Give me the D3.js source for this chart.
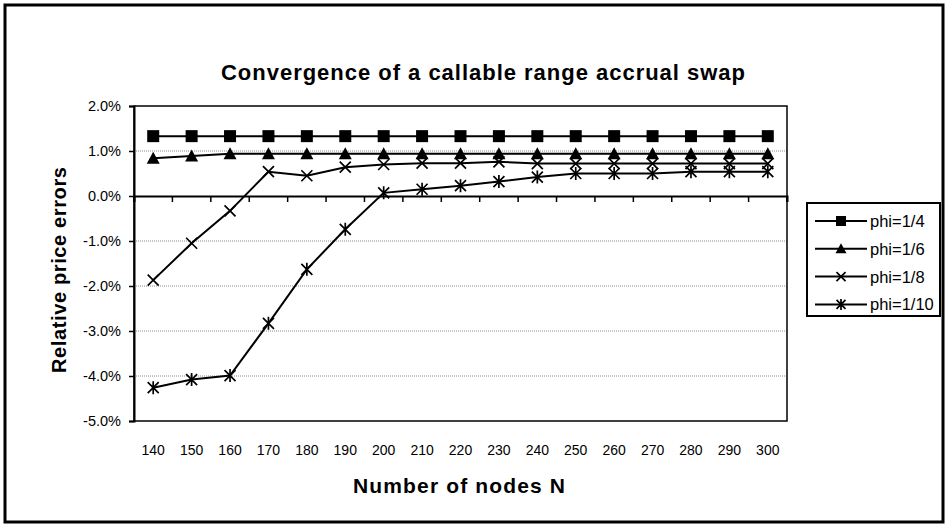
<!DOCTYPE html>
<html>
<head>
  <meta charset="utf-8">
  <script src="https://cdn.jsdelivr.net/npm/d3@7"></script>
  <title>Convergence of a callable range accrual swap</title>
  <style>
    body { margin: 0; background: #fff; }
    text { font-family: "Liberation Sans", Arial, sans-serif; fill: #000; }
  </style>
</head>
<body>
<svg width="948" height="527"></svg>
<script>
  // values (relative price error, in %)
  var nodes = [140, 150, 160, 170, 180, 190, 200, 210, 220, 230, 240, 250, 260, 270, 280, 290, 300];
  var phi4  = [1.33, 1.33, 1.33, 1.33, 1.33, 1.33, 1.33, 1.33, 1.33, 1.33, 1.33, 1.33, 1.33, 1.33, 1.33, 1.33, 1.33];
  var phi6  = [0.84, 0.89, 0.94, 0.94, 0.94, 0.94, 0.94, 0.94, 0.94, 0.94, 0.94, 0.94, 0.94, 0.94, 0.94, 0.94, 0.94];
  var phi8  = [-1.87, -1.05, -0.33, 0.54, 0.45, 0.64, 0.70, 0.73, 0.73, 0.76, 0.72, 0.72, 0.72, 0.72, 0.72, 0.72, 0.72];
  var phi10 = [-4.26, -4.08, -3.99, -2.83, -1.63, -0.74, 0.07, 0.15, 0.23, 0.32, 0.42, 0.50, 0.50, 0.50, 0.54, 0.54, 0.54];
  var seriesNames = ["phi=1/4", "phi=1/6", "phi=1/8", "phi=1/10"];
  var yTicks = [2, 1, 0, -1, -2, -3, -4, -5];

  var series = [
    { name: seriesNames[0], values: phi4,  marker: "square" },
    { name: seriesNames[1], values: phi6,  marker: "triangle" },
    { name: seriesNames[2], values: phi8,  marker: "cross" },
    { name: seriesNames[3], values: phi10, marker: "star" }
  ];

  var svg = d3.select("svg");
  var plot = { left: 134, right: 787, top: 106, bottom: 421 };

  var x = d3.scaleBand().domain(nodes).range([plot.left, plot.right]).padding(0);
  var y = d3.scaleLinear().domain([-5, 2]).range([plot.bottom, plot.top]);
  function cx(d, i) { return x(nodes[i]) + x.bandwidth() / 2; }

  // chart frame
  svg.append("rect")
      .attr("x", 5).attr("y", 5).attr("width", 938).attr("height", 517)
      .attr("fill", "#fff").attr("stroke", "#000").attr("stroke-width", 3);

  svg.append("text")
      .attr("x", 483).attr("y", 80)
      .attr("text-anchor", "middle")
      .attr("font-size", 22).attr("font-weight", "bold")
      .attr("textLength", 524).attr("lengthAdjust", "spacing")
      .text("Convergence of a callable range accrual swap");

  // gridlines
  svg.append("g")
      .selectAll("line").data(yTicks.filter(function (t) { return t !== 0 && t !== 2 && t !== -5; }))
      .enter().append("line")
      .attr("x1", plot.left).attr("x2", plot.right)
      .attr("y1", function (d) { return y(d); }).attr("y2", function (d) { return y(d); })
      .attr("stroke", "#8c8c8c").attr("stroke-width", 1).attr("stroke-dasharray", "1,1");

  // plot border
  svg.append("rect")
      .attr("x", plot.left).attr("y", plot.top)
      .attr("width", plot.right - plot.left).attr("height", plot.bottom - plot.top)
      .attr("fill", "none").attr("stroke", "#000").attr("stroke-width", 1.5);

  // y axis
  var yAxis = d3.axisLeft(y)
      .tickValues(yTicks)
      .tickSize(5)
      .tickPadding(8)
      .tickFormat(function (d) { return d.toFixed(1) + "%"; });
  var gy = svg.append("g").attr("transform", "translate(" + plot.left + ",0)").call(yAxis);
  gy.select(".domain").attr("stroke-width", 2);
  gy.selectAll(".tick line").attr("stroke-width", 1.5);
  gy.selectAll("text").attr("font-size", 14.5).attr("font-family", "Liberation Sans, Arial, sans-serif");

  // x axis sits on the zero line, labels at the bottom
  var xAxis = d3.axisBottom(x).tickSize(6).tickFormat("");
  var gx = svg.append("g").attr("transform", "translate(0," + y(0) + ")").call(xAxis);
  gx.select(".domain").attr("stroke-width", 2);
  gx.selectAll(".tick").remove();
  gx.selectAll("line.sep").data(nodes.concat(["end"])).enter().append("line")
      .attr("class", "sep")
      .attr("x1", function (d, i) { return plot.left + i * x.bandwidth(); })
      .attr("x2", function (d, i) { return plot.left + i * x.bandwidth(); })
      .attr("y1", 0).attr("y2", 6)
      .attr("stroke", "#000").attr("stroke-width", 1.5);

  svg.append("g").selectAll("text").data(nodes).enter().append("text")
      .attr("x", function (d) { return x(d) + x.bandwidth() / 2; })
      .attr("y", 455)
      .attr("text-anchor", "middle")
      .attr("font-size", 14)
      .text(function (d) { return d; });

  svg.append("text")
      .attr("x", 459).attr("y", 493)
      .attr("text-anchor", "middle")
      .attr("font-size", 21).attr("font-weight", "bold")
      .attr("textLength", 212).attr("lengthAdjust", "spacing")
      .text("Number of nodes N");

  svg.append("text")
      .attr("transform", "translate(66,270) rotate(-90)")
      .attr("text-anchor", "middle")
      .attr("font-size", 20).attr("font-weight", "bold")
      .attr("textLength", 206).attr("lengthAdjust", "spacing")
      .text("Relative price errors");

  // markers
  function drawMarker(g, type, size) {
    var h = size / 2;
    if (type === "square") {
      g.append("rect").attr("x", -h).attr("y", -h).attr("width", size).attr("height", size).attr("fill", "#000");
    } else if (type === "triangle") {
      g.append("path").attr("d", "M0," + (-h - 1) + "L" + (h + 1) + "," + (h) + "L" + (-h - 1) + "," + (h) + "Z").attr("fill", "#000");
    } else if (type === "cross") {
      g.append("path").attr("d", "M" + (-h) + "," + (-h) + "L" + h + "," + h + "M" + (-h) + "," + h + "L" + h + "," + (-h))
          .attr("stroke", "#000").attr("stroke-width", 1.7).attr("fill", "none");
    } else {
      g.append("path").attr("d", "M" + (-h) + "," + (-h) + "L" + h + "," + h + "M" + (-h) + "," + h + "L" + h + "," + (-h) + "M0," + (-h - 1) + "L0," + (h + 1))
          .attr("stroke", "#000").attr("stroke-width", 1.7).attr("fill", "none");
    }
  }

  var line = d3.line()
      .x(cx)
      .y(function (d) { return y(d); });

  var gs = svg.append("g").selectAll("g.series").data(series).enter().append("g").attr("class", "series");
  gs.append("path")
      .attr("d", function (s) { return line(s.values); })
      .attr("fill", "none").attr("stroke", "#000").attr("stroke-width", 2);
  gs.each(function (s) {
    var g = d3.select(this);
    s.values.forEach(function (v, i) {
      var m = g.append("g").attr("transform", "translate(" + cx(v, i) + "," + y(v) + ")");
      drawMarker(m, s.marker, s.marker === "square" ? 12 : 11);
    });
  });

  // legend
  var legend = svg.append("g");
  legend.append("rect")
      .attr("x", 807).attr("y", 203).attr("width", 133).attr("height", 113)
      .attr("fill", "#fff").attr("stroke", "#000").attr("stroke-width", 2);
  var li = legend.selectAll("g.item").data(series).enter().append("g")
      .attr("class", "item")
      .attr("transform", function (d, i) { return "translate(0," + (221 + i * 27.8) + ")"; });
  li.append("line").attr("x1", 815).attr("x2", 867).attr("y1", 0).attr("y2", 0)
      .attr("stroke", "#000").attr("stroke-width", 2);
  li.each(function (s) {
    var m = d3.select(this).append("g").attr("transform", "translate(841,0)");
    drawMarker(m, s.marker, s.marker === "square" ? 10 : 9);
  });
  li.append("text").attr("x", 870).attr("y", 6)
      .attr("font-size", 16.5)
      .text(function (s) { return s.name; });
</script>
</body>
</html>
